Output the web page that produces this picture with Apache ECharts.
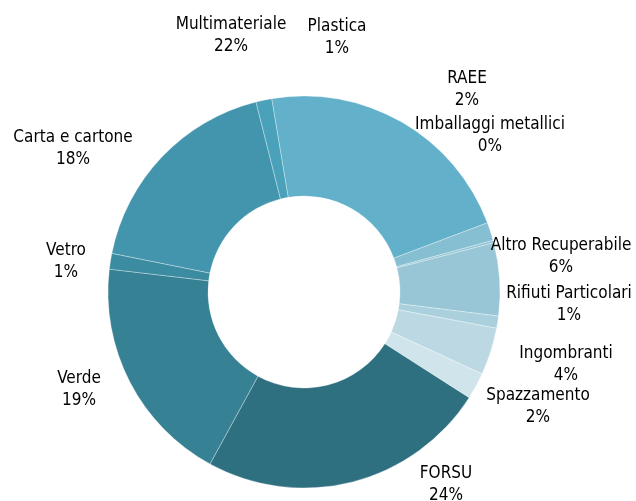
<!DOCTYPE html>
<html><head><meta charset="utf-8">
<script src="https://cdn.jsdelivr.net/npm/echarts@6/dist/echarts.min.js"></script>
<style>html,body{margin:0;padding:0;background:#fff}#c{width:636px;height:501px}</style>
</head><body><div id="c"></div>
<script>
const categories = ['Multimateriale','RAEE','Imballaggi metallici','Altro Recuperabile','Rifiuti Particolari','Ingombranti','Spazzamento','FORSU','Verde','Vetro','Carta e cartone','Plastica'];
const values = [21.9,1.5,0.2,6.0,1.0,3.9,2.2,23.9,18.9,1.3,17.9,1.3];
const colors = ['#62b0c9','#86bfd1','#8fc3d4','#98c6d6','#a9d0dc','#bcd9e3','#d0e5eb','#2e6f80','#368194','#3b8ba1','#4295ad','#49a1ba'];
const labelPos = [[231,36],[467,90],[490,136],[561,257],[569,305],[566,365],[538,407],[446,485],[79,390],[66,262],[73,149],[337,38]];

const chart = echarts.init(document.getElementById('c'));
chart.setOption({
  animation:false,
  series:[{
    type:'pie',
    center:[304,292],
    radius:[96,196],
    startAngle:99.5,
    clockwise:true,
    avoidLabelOverlap:false,
    itemStyle:{borderColor:'rgba(255,255,255,0.4)',borderWidth:0.8},
    label:{show:true,position:'outside',color:'#000',fontFamily:'DejaVu Sans Condensed',fontSize:17,lineHeight:22,align:'center',
      formatter:p=>p.name+'\n'+Math.round(p.value)+'%'},
    labelLine:{show:false},
    labelLayout:function(p){const q=labelPos[p.dataIndex];return {x:q[0],y:q[1],align:'center',verticalAlign:'middle'};},
    data:categories.map((n,i)=>({name:n,value:values[i],itemStyle:{color:colors[i]}}))
  }]
});
</script></body></html>
